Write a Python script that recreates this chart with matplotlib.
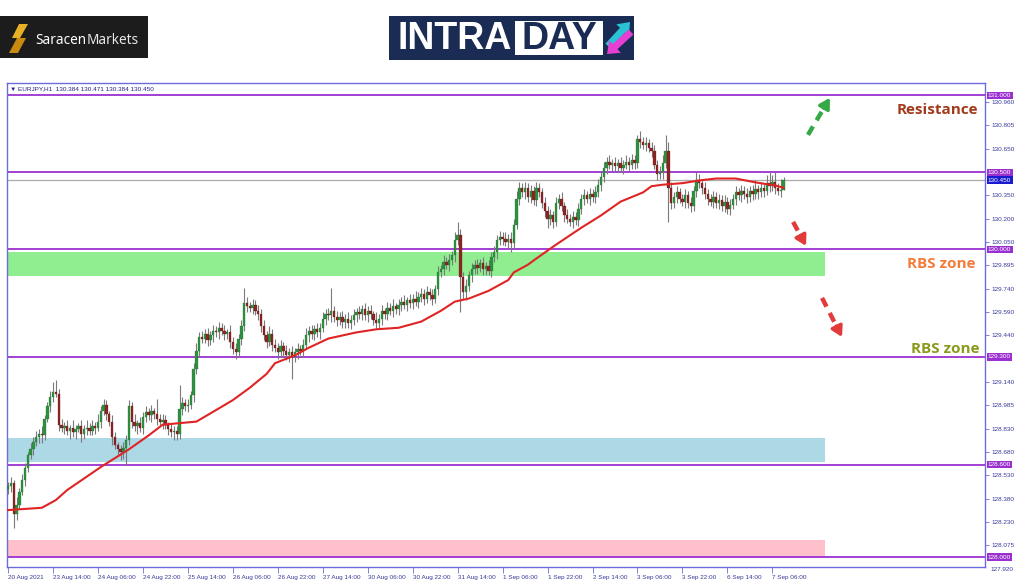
import matplotlib
matplotlib.use('Agg')
import matplotlib.pyplot as plt
from matplotlib.patches import Rectangle, FancyArrow, Polygon
import numpy as np

# ---------------- data ----------------
first_open = 128.44
closes = [
128.46,128.48,128.28,128.34,128.42,128.50,128.58,128.66,128.70,128.75,
128.78,128.80,128.79,128.90,128.98,129.04,129.07,129.06,128.86,128.84,
128.85,128.82,128.84,128.81,128.83,128.85,128.80,128.83,128.84,128.82,
128.85,128.84,128.88,128.95,128.99,128.93,128.88,128.78,128.73,128.70,
128.68,128.71,128.76,128.98,128.88,128.85,128.87,128.84,128.91,128.94,
128.92,128.95,128.93,128.90,128.88,128.89,128.86,128.83,128.81,128.82,
128.80,128.96,129.00,128.98,128.99,129.05,129.22,129.34,129.43,129.42,
129.45,129.41,129.44,129.47,129.46,129.49,129.47,129.45,129.46,129.40,
129.35,129.33,129.42,129.50,129.65,129.63,129.62,129.64,129.60,129.58,
129.50,129.44,129.40,129.45,129.38,129.36,129.33,129.37,129.34,129.31,
129.33,129.30,129.33,129.35,129.34,129.38,129.44,129.47,129.45,129.48,
129.46,129.49,129.55,129.58,129.57,129.60,129.56,129.54,129.56,129.53,
129.55,129.52,129.54,129.57,129.59,129.58,129.61,129.57,129.60,129.58,
129.54,129.52,129.55,129.60,129.58,129.62,129.60,129.63,129.61,129.64,
129.66,129.64,129.67,129.65,129.68,129.66,129.69,129.71,129.68,129.72,
129.70,129.68,129.74,129.85,129.87,129.92,129.90,129.93,129.96,130.06,
130.09,129.82,129.72,129.76,129.83,129.87,129.90,129.88,129.91,129.87,
129.89,129.86,129.95,129.98,130.06,130.08,130.07,130.05,130.07,130.04,
130.16,130.33,130.40,130.37,130.40,130.34,130.38,130.32,130.40,130.37,
130.30,130.25,130.20,130.22,130.18,130.30,130.33,130.28,130.22,130.20,
130.18,130.21,130.19,130.26,130.33,130.35,130.33,130.36,130.34,130.37,
130.42,130.47,130.53,130.57,130.55,130.56,130.54,130.56,130.53,130.55,
130.57,130.55,130.58,130.56,130.72,130.70,130.68,130.69,130.66,130.64,
130.55,130.49,130.50,130.56,130.64,130.40,130.30,130.34,130.37,130.33,
130.31,130.35,130.30,130.28,130.38,130.45,130.43,130.40,130.36,130.33,
130.31,130.34,130.30,130.32,130.28,130.31,130.26,130.29,130.33,130.37,
130.35,130.38,130.36,130.34,130.38,130.36,130.39,130.37,130.40,130.38,
130.43,130.41,130.44,130.40,130.38,130.384,130.45]

# upper / lower wick lengths (in 0.01 price units)
upper_wicks = [
3,4,2,5,3,4,3,2,4,3, 4,3,5,2,3,4,7,8,3,4, 3,4,2,5,3,2,4,3,5,3,
4,3,5,3,4,3,2,4,3,2, 3,4,3,4,3,5,2,4,3,4, 3,4,2,10,3,4,3,2,4,3,
3,16,4,3,4,3,4,5,3,4, 3,4,3,4,3,4,3,4,2,5, 3,4,3,4,10,4,3,4,3,4,
3,4,3,5,3,4,3,4,3,4, 3,4,3,4,3,4,5,3,4,3, 4,3,4,3,4,15,3,4,3,4,
3,4,3,4,3,4,3,4,3,4, 2,5,3,4,2,4,3,5,2,4, 3,4,2,4,3,5,3,4,3,4,
3,4,3,4,3,4,3,4,3,5, 9,4,3,5,3,4,3,4,3,4, 3,4,3,4,3,4,3,4,3,4,
4,5,4,3,4,3,4,3,4,3, 3,4,3,4,3,4,3,4,3,4, 3,4,3,4,3,4,3,4,3,4,
4,3,4,3,4,3,4,3,4,3, 4,3,4,3,2,5,3,4,3,4, 4,3,4,5,10,6,4,3,4,3,
3,4,3,4,3,5,4,3,4,3, 3,4,3,4,3,4,3,4,3,4, 3,4,3,4,3,4,6,3,4,3,
5,7,4,6,3,7,2]
lower_wicks = [
3,4,9,4,3,2,4,3,2,4, 3,4,5,3,2,4,3,2,4,3, 4,3,5,3,4,2,5,3,4,3,
3,4,2,4,3,4,3,5,3,4, 5,4,11,3,4,3,5,3,4,3, 3,4,3,4,3,5,3,4,3,5,
4,3,4,3,4,3,4,3,4,3, 3,4,3,4,3,4,3,4,3,4, 3,4,3,4,3,4,3,4,3,4,
4,3,4,3,4,3,4,3,4,3, 4,14,3,4,3,4,3,4,3,4, 3,4,3,4,3,4,3,4,3,4,
4,3,4,3,4,3,4,3,4,3, 3,4,3,4,3,4,3,4,3,4, 4,3,4,3,4,3,4,3,4,3,
3,4,3,4,3,4,3,4,3,4, 3,23,4,5,3,4,3,4,3,4, 4,3,4,3,4,3,4,3,4,6,
4,3,4,3,4,3,4,3,4,3, 3,4,6,4,4,3,4,3,4,3, 3,4,3,4,3,4,3,4,3,4,
3,4,3,4,3,4,3,4,3,4, 3,4,3,4,3,4,3,4,3,4, 3,4,3,4,3,22,4,3,4,3,
3,4,3,4,3,4,3,4,3,4, 3,4,3,4,3,4,3,4,3,4, 3,4,3,4,3,4,3,4,3,4,
3,4,3,4,3,4,0]

# moving average (read at selected bars)
ma_idx = [0,12,17,21,33,43,50,55,67,74,80,86,92,95,102,107,114,124,131,139,
          147,154,159,164,171,178,180,185,188,195,204,211,218,226,229,233,
          240,247,252,259,266,273,276]
ma_vals = [128.305,128.32,128.37,128.435,128.585,128.70,128.79,128.86,128.88,
           128.955,129.02,129.10,129.19,129.26,129.31,129.36,129.42,129.46,
           129.48,129.49,129.53,129.60,129.66,129.68,129.73,129.80,129.85,
           129.90,129.94,130.03,130.14,130.22,130.31,130.37,130.41,130.42,
           130.43,130.45,130.46,130.46,130.435,130.415,130.40]

x_labels = ['20 Aug 2021', '23 Aug 14:00', '24 Aug 06:00', '24 Aug 22:00',
            '25 Aug 14:00', '26 Aug 06:00', '26 Aug 22:00', '27 Aug 14:00',
            '30 Aug 06:00', '30 Aug 22:00', '31 Aug 14:00', '1 Sep 06:00',
            '1 Sep 22:00', '2 Sep 14:00', '3 Sep 06:00', '3 Sep 22:00',
            '6 Sep 14:00', '7 Sep 06:00']
x_label_idx = [0, 16, 32, 48, 64, 80, 96, 112, 128, 144, 160, 176, 192, 208,
               224, 240, 256, 272]

y_ticks = [130.960, 130.805, 130.650, 130.350, 130.200, 130.050, 129.895,
           129.740, 129.590, 129.440, 129.140, 128.985, 128.830, 128.680,
           128.530, 128.380, 128.230, 128.075]
level_lines = [131.000, 130.500, 130.000, 129.300, 128.600, 128.000]
current_price = 130.450
bottom_label = 127.920

zones = [  # (low, high, color)
    (129.827, 129.983, '#90ee90'),
    (128.618, 128.774, '#add8e6'),
    (128.000, 128.110, '#ffc0cb'),
]

# ---------------- figure ----------------
FONT = ['Liberation Sans', 'DejaVu Sans']
fig = plt.figure(figsize=(10.24, 5.87), dpi=100)
fig.patch.set_facecolor('white')
ax = fig.add_axes([7/1024, 1-567/587, 978/1024, 484/587])
ax.set_xlim(-0.4, 347.7)
ax.set_ylim(127.935, 131.081)

for lo_, hi_, col in zones:
    ax.axhspan(lo_, hi_, xmin=0, xmax=0.8364, color=col, lw=0, zorder=1)

for lv in level_lines:
    ax.axhline(lv, color='#9b30d0', lw=1.3, zorder=2)
ax.axhline(current_price, color='#aaaaaa', lw=0.9, zorder=2)

n = len(closes)
xi = np.arange(n)
c = np.array(closes)
o = np.array([first_open] + closes[:-1])
hi = np.maximum(o, c) + np.array(upper_wicks) / 100.0
lo = np.minimum(o, c) - np.array(lower_wicks) / 100.0

ax.vlines(xi, lo, hi, color='#7a7a7a', lw=0.8, zorder=3)
bull = c >= o
body_h = np.maximum(np.abs(c - o), 0.006)
ax.bar(xi[bull], body_h[bull], bottom=np.minimum(o, c)[bull], width=0.85,
       color='#2e9140', edgecolor='#227030', lw=0.2, zorder=4)
ax.bar(xi[~bull], body_h[~bull], bottom=np.minimum(o, c)[~bull], width=0.85,
       color='#8e2424', edgecolor='#6a1a1a', lw=0.2, zorder=4)

ax.plot(ma_idx, ma_vals, color='#e02424', lw=1.5, zorder=5,
        solid_joinstyle='round')

# dashed arrows
def dashed_arrow(x0, y0, x1, y1, col):
    fx = x0 + (x1 - x0) * 0.72
    fy = y0 + (y1 - y0) * 0.72
    ax.plot([x0, fx], [y0, fy], color=col, lw=3.2, dashes=(2.2, 1.6),
            solid_capstyle='butt', dash_capstyle='butt', zorder=6)
    ax.annotate('', xy=(x1, y1), xytext=(fx, fy),
                arrowprops=dict(arrowstyle='-|>,head_width=0.35,head_length=0.6',
                                color=col, lw=2.5, shrinkA=0, shrinkB=0),
                zorder=6)

dashed_arrow(284.7, 130.744, 292.5, 130.985, '#36a845')
dashed_arrow(279.4, 130.178, 284.0, 130.022, '#e23b3b')
dashed_arrow(289.7, 129.684, 296.8, 129.430, '#e23b3b')

# axes styling
for s in ax.spines.values():
    s.set_color('#6b6bdc')
    s.set_linewidth(1.0)
ax.yaxis.tick_right()
ax.set_yticks(y_ticks)
ax.set_yticklabels([f'{v:.3f}' for v in y_ticks])
ax.tick_params(axis='y', direction='out', length=3, width=0.6, color='#6b6bdc',
               labelsize=4.6, labelcolor='#3a3a9a', pad=1.5)
for t in ax.get_yticklabels():
    t.set_family(FONT)
ax.set_xticks(x_label_idx)
ax.set_xticklabels(x_labels)
ax.tick_params(axis='x', direction='out', length=4, width=0.6, color='#6b6bdc',
               labelsize=4.6, labelcolor='#3a3a9a', pad=1.5)
for t in ax.get_xticklabels():
    t.set_horizontalalignment('left')
    t.set_family(FONT)

ytr = ax.get_yaxis_transform()
for lv in level_lines:
    ax.text(1.003, lv, f'{lv:.3f}', transform=ytr, fontsize=4.6, color='white',
            va='center', ha='left', family=FONT, zorder=10, clip_on=False,
            bbox=dict(boxstyle='square,pad=0.2', fc='#9b30d0', ec='none'))
ax.text(1.003, current_price, f'{current_price:.3f}', transform=ytr, fontsize=4.6,
        color='white', va='center', ha='left', family=FONT, zorder=10,
        clip_on=False, bbox=dict(boxstyle='square,pad=0.2', fc='#1a1ad0', ec='none'))
ax.text(1.006, bottom_label, f'{bottom_label:.3f}', transform=ytr, fontsize=4.6,
        color='#3a3a9a', va='center', ha='left', family=FONT, clip_on=False)

ax.text(0.003, 0.9876, '\u25bc EURJPY,H1  130.384 130.471 130.384 130.450',
        transform=ax.transAxes, fontsize=4.6, color='#22228a', va='center',
        ha='left', family=FONT)

# ---------------- overlay (logos & annotations) ----------------
ov = fig.add_axes([0, 0, 1, 1], zorder=5)
ov.set_xlim(0, 1024)
ov.set_ylim(587, 0)
ov.axis('off')
ov.patch.set_alpha(0)

# Saracen Markets logo
ov.add_patch(Rectangle((0, 16), 148, 42, fc='#1c1c1c', ec='none'))
ov.add_patch(Polygon([(19, 24), (28, 24), (20, 38), (12, 38)], closed=True,
                     fc='#e8b026', ec='none'))
ov.add_patch(Polygon([(17, 38), (26, 38), (18, 53), (9, 53)], closed=True,
                     fc='#c98a12', ec='none'))
t1 = ov.text(35, 40, 'Saracen', fontsize=9.8, fontweight='bold', color='white',
             ha='left', va='center', family='Noto Sans')
fig.canvas.draw()
bb = t1.get_window_extent()
x_end = bb.x1  # display px == figure px here
ov.text(x_end, 40, 'Markets', fontsize=9.8, color='#e8e8e8', ha='left',
        va='center', family='Noto Sans')

# INTRADAY banner
ov.add_patch(Rectangle((389, 16), 245, 44, fc='#1b2c54', ec='none'))
ov.add_patch(Rectangle((515, 21), 88, 34, fc='white', ec='none'))
ov.text(455, 39, 'INTRA', fontsize=27, fontweight='bold', color='white',
        ha='center', va='center', family='Liberation Sans')
ov.text(559, 39, 'DAY', fontsize=27, fontweight='bold', color='#1b2c54',
        ha='center', va='center', family='Liberation Sans')
ov.add_patch(FancyArrow(608, 46, 22, -24, width=7, head_width=17,
                        head_length=11, length_includes_head=True,
                        color='#2ac3d6', lw=0))
ov.add_patch(FancyArrow(631, 32, -24, 22, width=7, head_width=17,
                        head_length=11, length_includes_head=True,
                        color='#e63fd2', lw=0))

ov.text(937, 110, 'Resistance', fontsize=11, fontweight='bold', color='#a33a1b',
        ha='center', va='center', family='Open Sans')
ov.text(941, 264, 'RBS zone', fontsize=11, fontweight='bold', color='#f27c3a',
        ha='center', va='center', family='Open Sans')
ov.text(945, 349, 'RBS zone', fontsize=11, fontweight='bold', color='#8b9a1a',
        ha='center', va='center', family='Open Sans')

fig.savefig('out.png', dpi=100, facecolor='white')
